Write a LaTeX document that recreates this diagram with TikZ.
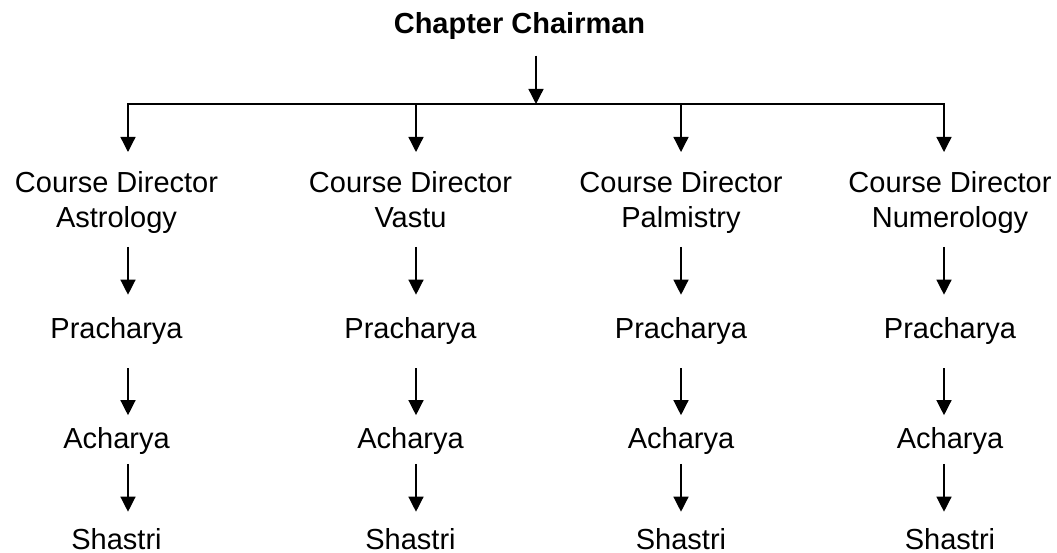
\documentclass[tikz,border=0pt]{standalone}
\usepackage{fontspec}
\setmainfont{Liberation Sans}
\usetikzlibrary{arrows.meta,calc}
\tikzset{
  lbl/.style={inner sep=0pt, text height=21pt, text depth=0pt, anchor=center, font=\fontsize{29}{34.5}\selectfont},
  cdbox/.style={inner sep=0pt, align=center, anchor=north, font=\fontsize{29}{34.5}\selectfont},
  arr/.style={line width=1.3pt, -{Triangle[width=15pt,length=15pt]}},
  conn/.style={line width=1.3pt, line cap=rect}
}
\begin{document}
\begin{tikzpicture}[x=1pt,y=-1pt]
\useasboundingbox (0,0) rectangle (1057,553);
\node[lbl, font=\fontsize{29}{34.5}\selectfont\bfseries] (chair) at (519.5,23) {Chapter Chairman};
\coordinate (hub) at (536,104);
\draw[arr] ($(chair.south -| hub)+(0,22)$) -- (hub);
\foreach \i/\x/\t/\s in {1/128/116.5/Astrology, 2/416/410.5/Vastu, 3/681/681/Palmistry, 4/944/950/Numerology}{
  \coordinate (top\i) at (\x,104);
  \node[cdbox] (cd\i) at (\t,171.5) {Course Director\\\s};
  \node[lbl] (pr\i) at (\t,328) {Pracharya};
  \node[lbl] (ac\i) at (\t,437.5) {Acharya};
  \node[lbl] (sh\i) at (\t,539) {Shastri};
  \draw[arr] (top\i) -- ($(cd\i.north -| top\i)+(0,-19.5)$);
  \draw[arr] ($(cd\i.north -| top\i)+(0,75.5)$) -- ($(pr\i.north -| top\i)+(0,-22.6)$);
  \draw[arr] ($(pr\i.south -| top\i)+(0,29.6)$) -- ($(ac\i.north -| top\i)+(0,-11.6)$);
  \draw[arr] ($(ac\i.south -| top\i)+(0,15.6)$) -- ($(sh\i.north -| top\i)+(0,-16.6)$);
}
\draw[conn] (top1) -- (top4);
\end{tikzpicture}
\end{document}
